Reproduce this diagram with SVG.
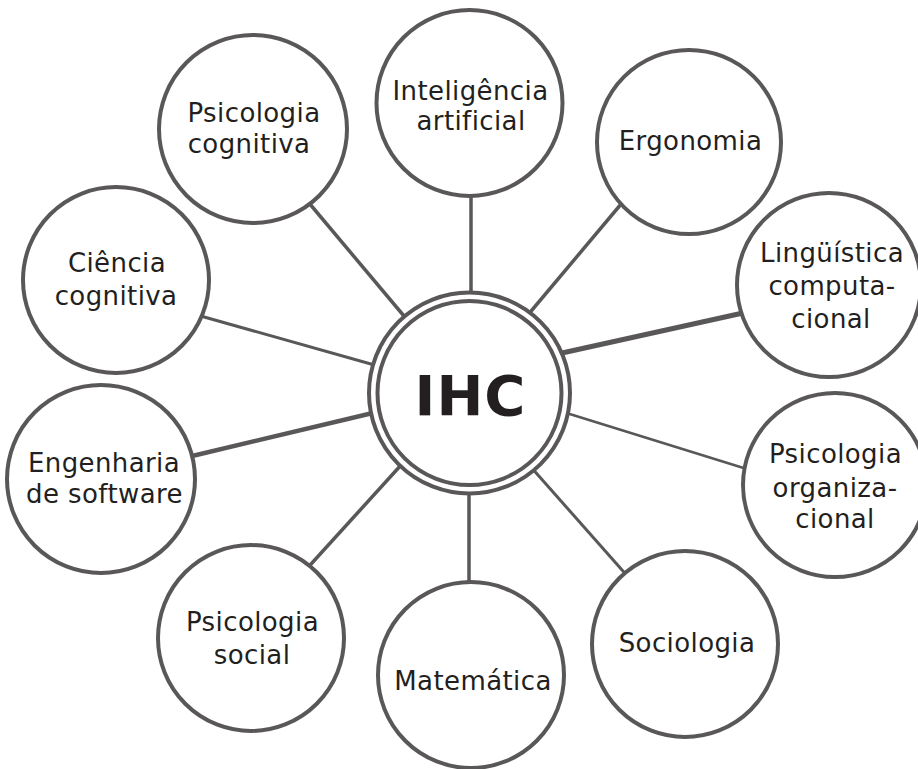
<svg xmlns="http://www.w3.org/2000/svg" width="918" height="769" viewBox="0 0 918 769">
<style>
.node{fill:#fff;stroke:#5a5758;stroke-width:4}
.ring{fill:none;stroke:#5a5758;stroke-width:4}
.lbl{font-family:"DejaVu Sans",Verdana,sans-serif;font-size:26px;letter-spacing:0.4px;fill:#231f20;text-anchor:middle}
.hub{font-family:"DejaVu Sans",Verdana,sans-serif;font-size:56px;font-weight:bold;letter-spacing:1px;fill:#231f20;text-anchor:middle}
#connectors line{stroke:#5a5758;stroke-width:3.5;stroke-linecap:butt}
</style>
<rect width="918" height="769" fill="#fff"/>
<g id="connectors">
<line x1="471" y1="190" x2="471" y2="300"/>
<line x1="304" y1="197" x2="409" y2="322"/>
<line x1="627" y1="197" x2="527" y2="316"/>
<line x1="190" y1="313" x2="378" y2="366" style="stroke-width:3"/>
<line x1="553" y1="355" x2="752" y2="311" style="stroke-width:5"/>
<line x1="188" y1="457" x2="377" y2="412" style="stroke-width:4.5"/>
<line x1="560" y1="411" x2="750" y2="470" style="stroke-width:2.5"/>
<line x1="402" y1="464" x2="302" y2="574"/>
<line x1="469" y1="490" x2="469" y2="590"/>
<line x1="530" y1="466" x2="630" y2="579" style="stroke-width:3"/>
</g>
<g id="ihc">
<circle cx="469.5" cy="393" r="100.5" class="node"/>
<circle cx="469.5" cy="393" r="92" class="ring"/>
<text x="470.5" y="415" class="hub">IHC</text>
</g>
<g id="inteligencia">
<circle cx="469.5" cy="103" r="93" class="node"/>
<text class="lbl"><tspan x="470.5" y="100">Inteligência</tspan><tspan x="471" y="130">artificial</tspan></text>
</g>
<g id="psicologia-cognitiva">
<circle cx="253" cy="129" r="94" class="node"/>
<text class="lbl"><tspan x="254" y="122">Psicologia</tspan><tspan x="249" y="153">cognitiva</tspan></text>
</g>
<g id="ergonomia">
<circle cx="689" cy="142" r="92" class="node"/>
<text x="690.5" y="150" class="lbl">Ergonomia</text>
</g>
<g id="ciencia-cognitiva">
<circle cx="116" cy="280" r="93" class="node"/>
<text class="lbl"><tspan x="117" y="272">Ciência</tspan><tspan x="116" y="305">cognitiva</tspan></text>
</g>
<g id="linguistica">
<circle cx="829" cy="285" r="92" class="node"/>
<text class="lbl"><tspan x="832" y="262">Lingüística</tspan><tspan x="832" y="295">computa-</tspan><tspan x="831" y="328">cional</tspan></text>
</g>
<g id="engenharia">
<circle cx="101" cy="479" r="94" class="node"/>
<text class="lbl"><tspan x="104" y="472">Engenharia</tspan><tspan x="104.5" y="503">de software</tspan></text>
</g>
<g id="psicologia-organizacional">
<circle cx="835" cy="485" r="92" class="node"/>
<text class="lbl"><tspan x="835.5" y="463">Psicologia</tspan><tspan x="835" y="497">organiza-</tspan><tspan x="835" y="528">cional</tspan></text>
</g>
<g id="psicologia-social">
<circle cx="251" cy="638" r="93" class="node"/>
<text class="lbl"><tspan x="252.5" y="631">Psicologia</tspan><tspan x="252" y="664">social</tspan></text>
</g>
<g id="matematica">
<circle cx="471" cy="675" r="93" class="node"/>
<text x="473" y="690" class="lbl">Matemática</text>
</g>
<g id="sociologia">
<circle cx="685" cy="644" r="93" class="node"/>
<text x="687" y="652" class="lbl">Sociologia</text>
</g>
</svg>
